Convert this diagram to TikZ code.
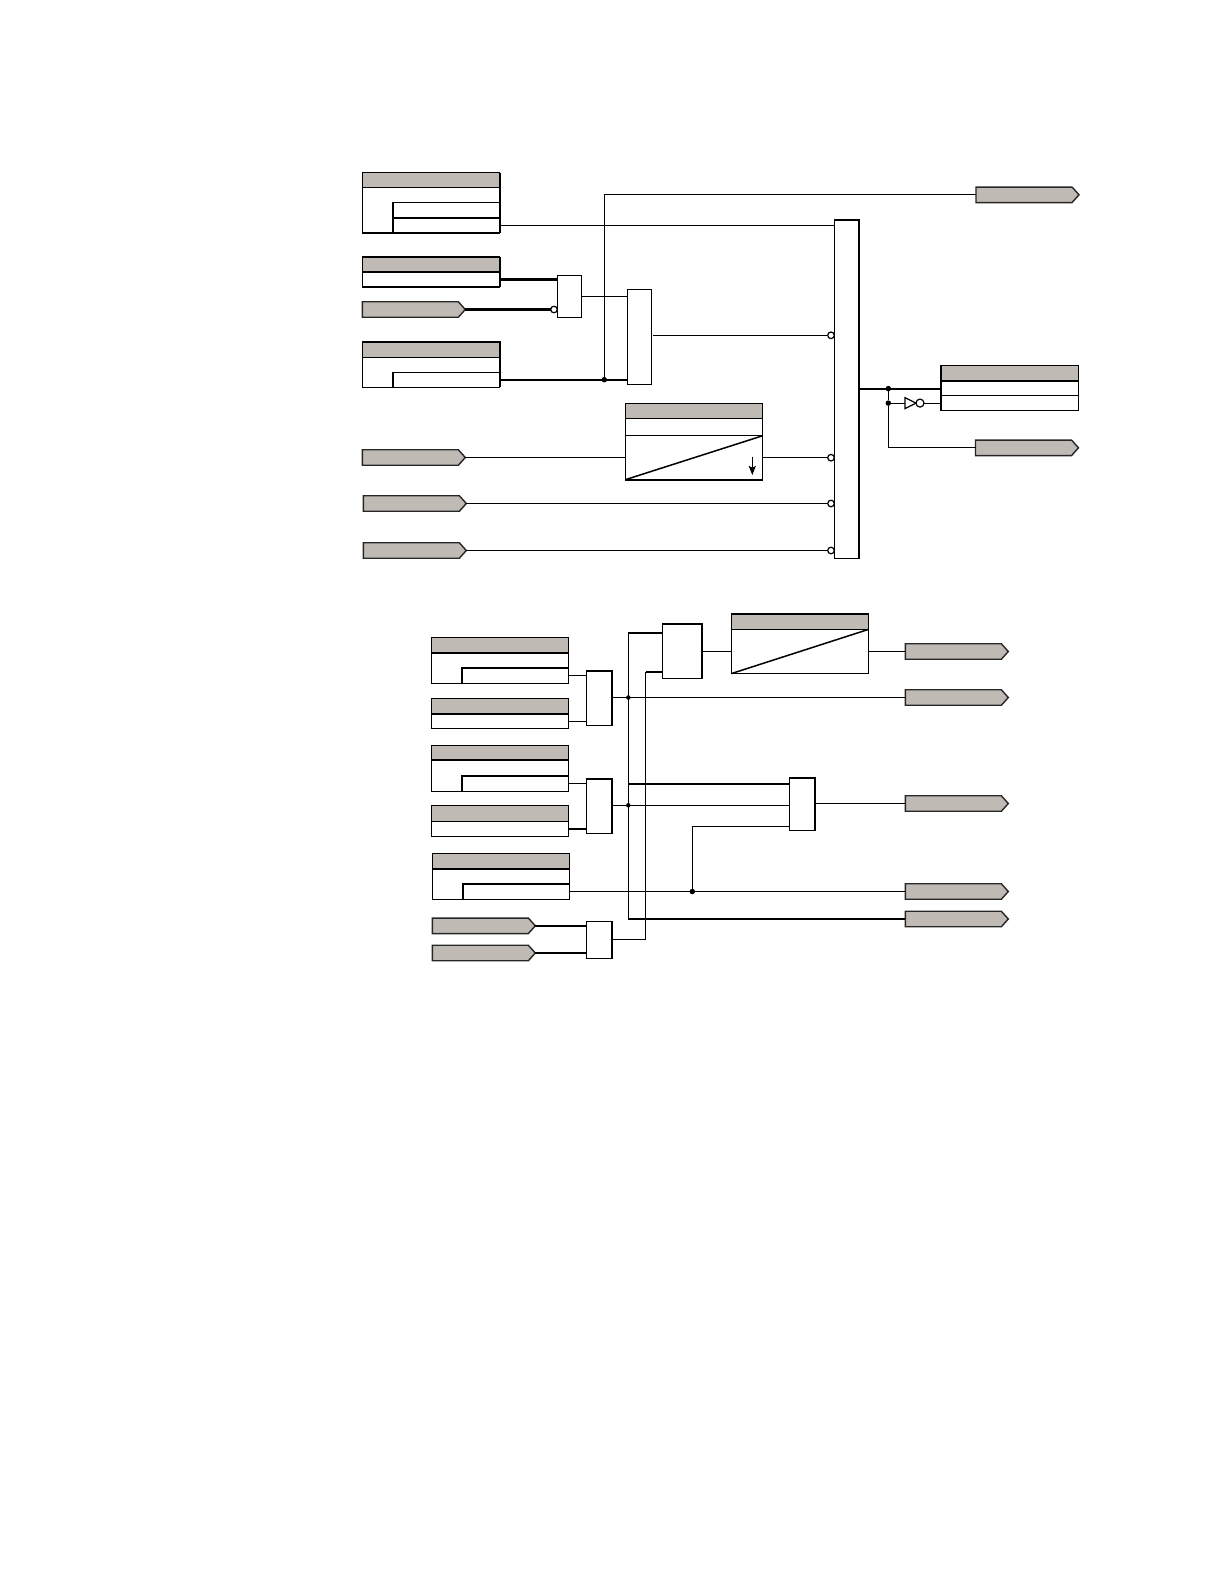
\documentclass[tikz,border=0pt]{standalone}
\usepackage{xcolor}
\usetikzlibrary{shapes.geometric, shapes.symbols, arrows.meta, positioning}
\definecolor{tagfill}{HTML}{C0BAB4}

\begin{document}
\begin{tikzpicture}[
    x=1pt, y=-1pt, line width=1.2pt,
    header/.style={
        rectangle, anchor=north west, inner sep=0pt, outer sep=0pt,
        minimum width=137.5pt, minimum height=15pt, draw, fill=tagfill
    },
    cell/.style={
        rectangle, inner sep=0pt, outer sep=0pt,
        minimum width=137.5pt, minimum height=15pt, draw, fill=white
    },
    subcell/.style={
        rectangle, inner sep=0pt, outer sep=0pt,
        minimum width=107pt, minimum height=15pt, draw, fill=white
    },
    gate/.style={
        rectangle, anchor=north west, inner sep=0pt, outer sep=0pt,
        draw, fill=white
    },
    tag/.style={
        signal, signal to=east, signal pointer angle=96, anchor=west,
        inner sep=0pt, outer sep=0pt, minimum width=103pt, minimum height=15.5pt,
        draw=black!85, line width=1.4pt, fill=tagfill
    },
    bubble/.style={
        circle, anchor=east, inner sep=0pt, outer sep=0pt,
        minimum size=6.6pt, draw, fill=white
    },
    dot/.style={circle, inner sep=0pt, outer sep=0pt, minimum size=5.5pt, fill=black},
    rule/.style={line width=2.2pt},
    arrow/.style={-{Stealth[length=3.2mm,width=2.5mm,inset=0.6mm]}, line width=1.2pt}
]
\useasboundingbox (0,0) rectangle (1224,1584);

\node (hdrA) [header] at (362.3,172.7) {};
\node (bodyA) [cell, minimum height=45.3pt, below=0pt of hdrA] {};
\node (subA2) [subcell, anchor=south east] at (bodyA.south east) {};
\node (subA1) [subcell, minimum height=15.5pt, above=0pt of subA2] {};
\node (hdrB) [header] at (362.3,257) {};
\node (rowB) [cell, below=0pt of hdrB] {};
\node (tagA) [tag] at (362.3,309.5) {};
\node (hdrC) [header] at (362.3,342.2) {};
\node (bodyC) [cell, minimum height=30pt, below=0pt of hdrC] {};
\node (subC) [subcell, anchor=south east] at (bodyC.south east) {};
\node (tagB) [tag] at (362.3,457.5) {};
\node (tagC) [tag] at (363.3,503.5) {};
\node (tagD) [tag] at (363.3,550.5) {};

\node (gateA) [gate, minimum width=24.4pt, minimum height=42pt] at (557.3,275.3) {};
\node (gateB) [gate, minimum width=24.4pt, minimum height=95pt] at (627.3,289.3) {};
\node (hdrE) [header] at (625.3,403.3) {};
\node (rowE) [cell, minimum height=17.4pt, below=0pt of hdrE] {};
\node (bodyE) [cell, minimum height=44pt, below=0pt of rowE] {};
\node (bus) [gate, minimum width=25pt, minimum height=338.6pt] at (834.3,219.7) {};
\node (hdrD) [header, minimum width=138pt] at (940.7,365.6) {};
\node (rowD1) [cell, minimum width=138pt, below=0pt of hdrD] {};
\node (rowD2) [cell, minimum width=138pt, below=0pt of rowD1] {};
\node (tagTop) [tag] at (976,194.8) {};
\node (tagE) [tag] at (975.5,447.8) {};

\coordinate (outB) at (653,335.3);
\node (inA) [bubble] at (gateA.west |- tagA.east) {};
\node (inB) [bubble] at (bus.west |- outB) {};
\node (inE) [bubble] at (bus.west |- bodyE.east) {};
\node (inC) [bubble] at (bus.west |- tagC.east) {};
\node (inD) [bubble] at (bus.west |- tagD.east) {};
\node (dotC) [dot] at (604.3,379.7) {};
\node (dotD1) [dot] at (888.3,388.6) {};
\node (dotD2) [dot] at (dotD1 |- rowD2.west) {};
\node (inv) [isosceles triangle, isosceles triangle stretches, draw, fill=white,
    inner sep=0pt, outer sep=0pt, minimum width=11pt, minimum height=11pt, anchor=lower side]
    at (dotD2 -| 905,0) {};
\node (invOut) [bubble, minimum size=8pt, anchor=west] at (inv.apex) {};

\draw [rule] (hdrA.north east) -- (subA2.south east);
\draw [rule] (subA1.south west) -- (subA1.south east);
\draw [rule] (subA1.north west) -- (subA2.south west);
\draw [rule] (hdrB.north west) -- (hdrB.north east);
\draw [rule] (hdrB.south west) -- (hdrB.south east);
\draw [rule] (hdrB.north east) -- (rowB.south east);
\draw [rule] (hdrC.north west) -- (hdrC.north east) -- (subC.south east);
\draw [rule] (subC.north west) -- (subC.south west);
\draw [line width=1.5pt] (bodyE.south west) -- (bodyE.north east);
\draw [line width=1.6pt] (bodyE.south west) -- (bodyE.south east);
\draw [arrow] (752.3,456.7) -- (752.3,475);
\draw [rule] (bus.north west) -- (bus.north east) -- (bus.south east);
\draw [rule] (hdrD.north west) -- (rowD2.south west);
\draw [rule] (hdrD.south west) -- (hdrD.south east);

\draw (subA2.east) -- (subA2.east -| bus.west);
\draw [rule] (rowB.east) -- (rowB.east -| gateA.west);
\draw [rule] (tagA.east) -- (inA.west);
\draw (gateA.east) -- (gateA.east -| gateB.west);
\draw [rule] (subC.east) -- (subC.east -| gateB.west);
\draw (dotC) |- (tagTop.west);
\draw (outB) -- (inB.west);
\draw (tagB.east) -- (tagB.east -| bodyE.west);
\draw (bodyE.east) -- (inE.west);
\draw (tagC.east) -- (inC.west);
\draw (tagD.east) -- (inD.west);
\draw [rule] (dotD1 -| bus.east) -- (dotD1 -| rowD1.west);
\draw (dotD1) -- (dotD2);
\draw (dotD2) |- (tagE.west);
\draw (dotD2) -- (inv.lower side);
\draw (invOut.east) -- (rowD2.west);

\node (hdrF) [header] at (431.3,637.7) {};
\node (bodyF) [cell, minimum height=30.6pt, below=0pt of hdrF] {};
\node (subF) [subcell, anchor=south east] at (bodyF.south east) {};
\node (hdrG) [header] at (431.3,698.7) {};
\node (rowG) [cell, below=0pt of hdrG] {};
\node (hdrH) [header] at (431.3,745.3) {};
\node (bodyH) [cell, minimum height=31pt, below=0pt of hdrH] {};
\node (subH) [subcell, anchor=south east] at (bodyH.south east) {};
\node (hdrI) [header, minimum height=15.6pt] at (431.3,805.7) {};
\node (rowI) [cell, below=0pt of hdrI] {};
\node (hdrK) [header] at (432.3,853.7) {};
\node (bodyK) [cell, minimum height=30.6pt, below=0pt of hdrK] {};
\node (subK) [subcell, anchor=south east] at (bodyK.south east) {};
\node (tagF) [tag] at (432.3,925.8) {};
\node (tagG) [tag] at (432.3,953) {};

\node (gateC) [gate, minimum width=26pt, minimum height=54.6pt] at (586.3,670.7) {};
\node (gateD) [gate, minimum width=26pt, minimum height=54.6pt] at (586.3,778.7) {};
\node (gateG) [gate, minimum width=26pt, minimum height=37pt] at (586.3,921.3) {};
\node (gateE) [gate, minimum width=40pt, minimum height=54.3pt] at (662.3,624) {};
\node (hdrJ) [header] at (731.3,614.3) {};
\node (bodyJ) [cell, minimum height=44.3pt, below=0pt of hdrJ] {};
\node (gateF) [gate, minimum width=26pt, minimum height=52.3pt] at (789.3,778) {};
\node (tagH) [tag] at (905.3,651.5) {};
\node (tagI) [tag] at (905.3,697.5) {};
\node (tagJ) [tag] at (905.3,803.5) {};
\node (tagK) [tag] at (905.3,891.5) {};
\node (tagL) [tag] at (905.3,919) {};

\coordinate (railA) at (628.3,633);
\coordinate (railB) at (628.3,919);
\coordinate (railC) at (645.7,671.7);
\coordinate (inF1) at (789.3,783.7);
\coordinate (inF2) at (789.3,805.3);
\coordinate (inF3) at (789.3,826.3);
\node (dotG) [dot, minimum size=4.5pt] at (tagI.west -| railA) {};
\node (dotH) [dot, minimum size=4.5pt] at (inF2 -| railA) {};
\node (dotK) [dot] at (692.3,891.5) {};

\draw [rule] (hdrF.south west) -- (hdrF.south east);
\draw [rule] (subF.south west) -- (subF.north west) -- (subF.north east);
\draw [rule] (hdrG.south west) -- (hdrG.south east);
\draw [rule] (hdrH.south west) -- (hdrH.south east);
\draw [rule] (subH.south west) -- (subH.north west) -- (subH.north east);
\draw [rule] (hdrK.south west) -- (hdrK.south east);
\draw [rule] (subK.south west) -- (subK.north west) -- (subK.north east);
\draw [rule] (gateC.north west) -- (gateC.north east) -- (gateC.south east);
\draw [rule] (gateD.north west) -- (gateD.north east) -- (gateD.south east);
\draw [rule] (gateG.north east) -- (gateG.south east);
\draw [rule] (gateE.north west) -- (gateE.north east) -- (gateE.south east);
\draw [rule] (gateF.north west) -- (gateF.north east) -- (gateF.south east);
\draw [rule] (hdrJ.north west) -- (hdrJ.north east);
\draw [line width=1.5pt] (bodyJ.south west) -- (bodyJ.north east);

\draw (subF.east) -- (subF.east -| gateC.west);
\draw (rowG.east) -- (rowG.east -| gateC.west);
\draw (subH.east) -- (subH.east -| gateD.west);
\draw [rule] (rowI.east) -- (rowI.east -| gateD.west);
\draw [rule] (tagF.east) -- (tagF.east -| gateG.west);
\draw (tagG.east) -- (tagG.east -| gateG.west);
\draw (tagI.west -| gateC.east) -- (tagI.west);
\draw (inF2 -| gateD.east) -- (inF2);
\draw (subK.east) -- (subK.east -| tagK.west);
\draw (railA) -- (railB);
\draw [rule] (railA) -- (railA -| gateE.west);
\draw [rule] (railB) -- (railB -| tagL.west);
\draw [rule] (inF1 -| railA) -- (inF1);
\draw (gateG.east) -| (railC);
\draw [rule] (railC) -- (railC -| gateE.west);
\draw (dotK) |- (inF3);
\draw (gateE.east) -- (gateE.east -| bodyJ.west);
\draw (bodyJ.east) -- (bodyJ.east -| tagH.west);
\draw (tagJ.west -| gateF.east) -- (tagJ.west);
\end{tikzpicture}
\end{document}
